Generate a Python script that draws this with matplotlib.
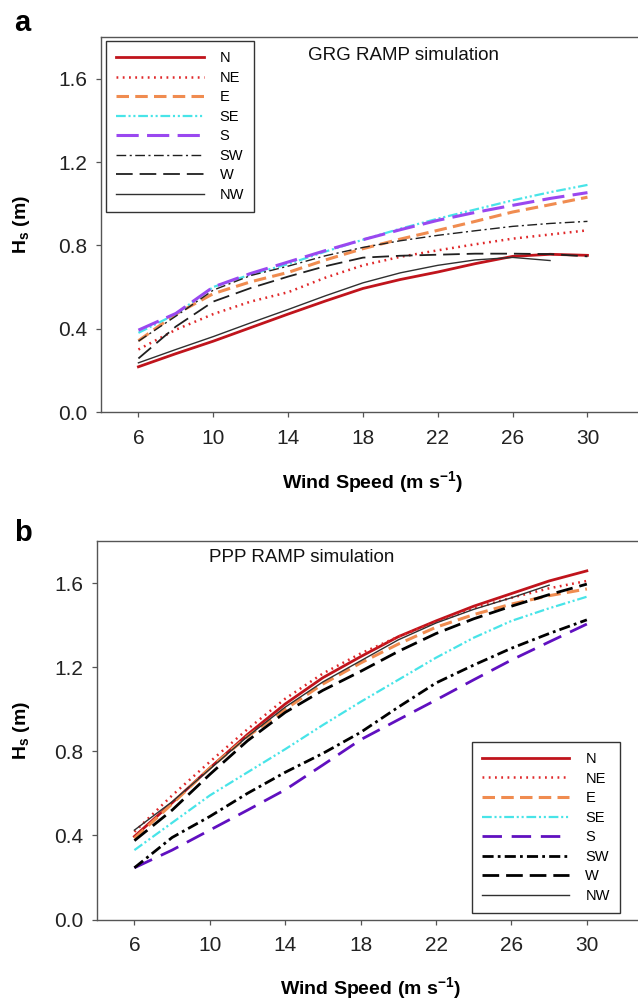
#!/usr/bin/env python3
"""Significant wave height vs wind speed for eight wind directions (GRG / PPP ramps)."""

import matplotlib
matplotlib.use("Agg")
import matplotlib.pyplot as plt

plt.rcParams["font.family"] = ["Liberation Sans", "DejaVu Sans"]
plt.rcParams["mathtext.fontset"] = "custom"
plt.rcParams["mathtext.rm"] = "Liberation Sans"
plt.rcParams["mathtext.bf"] = "Liberation Sans:bold"
plt.rcParams["lines.scale_dashes"] = False

# wind speed (m/s)
WIND = [6, 8, 10, 12, 14, 16, 18, 20, 22, 24, 26, 28, 30]
WIND_NW = [6, 8, 10, 12, 14, 16, 18, 20, 22, 24, 26, 28]
DIRECTIONS = ["N", "NE", "E", "SE", "S", "SW", "W", "NW"]
X_TICKS = [6, 10, 14, 18, 22, 26, 30]
Y_TICKS = [0.0, 0.4, 0.8, 1.2, 1.6]

# panel a: GRG RAMP simulation, Hs (m)
GRG_N = [0.217, 0.28, 0.34, 0.405, 0.47, 0.533, 0.593, 0.636, 0.672, 0.712, 0.747, 0.757, 0.752]
GRG_NE = [0.30, 0.395, 0.47, 0.53, 0.575, 0.645, 0.704, 0.745, 0.776, 0.805, 0.832, 0.852, 0.872]
GRG_E = [0.342, 0.47, 0.568, 0.625, 0.67, 0.73, 0.784, 0.83, 0.872, 0.915, 0.96, 0.995, 1.031]
GRG_SE = [0.38, 0.47, 0.60, 0.66, 0.71, 0.77, 0.827, 0.88, 0.928, 0.972, 1.016, 1.055, 1.09]
GRG_S = [0.393, 0.473, 0.60, 0.665, 0.72, 0.775, 0.827, 0.875, 0.92, 0.958, 0.992, 1.025, 1.053]
GRG_SW = [0.34, 0.46, 0.585, 0.655, 0.70, 0.75, 0.79, 0.822, 0.848, 0.87, 0.891, 0.905, 0.915]
GRG_W = [0.257, 0.41, 0.53, 0.595, 0.65, 0.70, 0.741, 0.75, 0.755, 0.76, 0.76, 0.758, 0.747]
GRG_NW = [0.236, 0.30, 0.362, 0.428, 0.492, 0.558, 0.62, 0.668, 0.704, 0.73, 0.742, 0.727]

# panel b: PPP RAMP simulation, Hs (m)
PPP_N = [0.395, 0.555, 0.72, 0.88, 1.025, 1.15, 1.25, 1.345, 1.42, 1.49, 1.55, 1.61, 1.658]
PPP_NE = [0.417, 0.59, 0.75, 0.905, 1.05, 1.17, 1.265, 1.345, 1.415, 1.48, 1.53, 1.575, 1.61]
PPP_E = [0.386, 0.55, 0.72, 0.87, 1.00, 1.12, 1.22, 1.31, 1.39, 1.45, 1.50, 1.54, 1.572]
PPP_SE = [0.33, 0.46, 0.59, 0.70, 0.81, 0.925, 1.035, 1.14, 1.245, 1.34, 1.42, 1.48, 1.535]
PPP_S = [0.246, 0.33, 0.425, 0.52, 0.617, 0.735, 0.855, 0.95, 1.044, 1.14, 1.234, 1.32, 1.405]
PPP_SW = [0.246, 0.39, 0.49, 0.60, 0.70, 0.79, 0.89, 1.01, 1.125, 1.21, 1.29, 1.36, 1.425]
PPP_W = [0.375, 0.52, 0.69, 0.85, 0.985, 1.09, 1.18, 1.275, 1.36, 1.43, 1.49, 1.545, 1.595]
PPP_NW = [0.425, 0.56, 0.715, 0.87, 1.01, 1.13, 1.23, 1.33, 1.41, 1.475, 1.53, 1.59]

GRG = [GRG_N, GRG_NE, GRG_E, GRG_SE, GRG_S, GRG_SW, GRG_W, GRG_NW]
PPP = [PPP_N, PPP_NE, PPP_E, PPP_SE, PPP_S, PPP_SW, PPP_W, PPP_NW]

# (color, linewidth, linestyle) per direction
STYLE_A = [
    ("#c0141c", 2.0, "-"),
    ("#e0282a", 1.8, (0, (1.3, 3.2))),
    ("#f08c50", 2.2, (0, (9, 4.5))),
    ("#48e4e8", 1.6, (0, (7, 2, 1.5, 2, 1.5, 2))),
    ("#9a48f0", 2.2, (0, (16, 6))),
    ("#202020", 1.0, (0, (7, 2.5, 1.5, 2.5))),
    ("#202020", 1.3, (0, (12, 5))),
    ("#303030", 1.0, "-"),
]
STYLE_B = [
    ("#c0141c", 2.0, "-"),
    ("#e0282a", 1.8, (0, (1.3, 3.2))),
    ("#f08c50", 2.2, (0, (9, 4.5))),
    ("#48e4e8", 1.6, (0, (7, 2, 1.5, 2, 1.5, 2))),
    ("#6010c0", 2.0, (0, (14, 7))),
    ("#000000", 2.0, (0, (8, 3, 2, 3))),
    ("#000000", 2.0, (0, (12, 5))),
    ("#303030", 1.0, "-"),
]

W, H = 638, 998
fig = plt.figure(figsize=(W / 100, H / 100), dpi=100)


def panel(rect, series, styles, title, title_xy, legend_xy, legend_loc, letter, letter_xy):
    ax = fig.add_axes(rect)
    for name, ys, (c, lw, ls) in zip(DIRECTIONS, series, styles):
        xs = WIND_NW if name == "NW" else WIND
        ax.plot(xs, ys, color=c, lw=lw, ls=ls, label=name)
    ax.set_xlim(4, 33)
    ax.set_ylim(0, 1.8)
    ax.set_xticks(X_TICKS)
    ax.set_yticks(Y_TICKS)
    ax.set_yticklabels([f"{v:.1f}" for v in Y_TICKS])
    ax.tick_params(axis="x", length=3.6, width=0.9, color="#555555", pad=8.5,
                   labelsize=15, labelcolor="#222222")
    ax.tick_params(axis="y", length=3.6, width=0.9, color="#555555", pad=6,
                   labelsize=15, labelcolor="#222222")
    for s in ax.spines.values():
        s.set_color("#555555")
        s.set_linewidth(1.0)
    ax.set_xlabel(r"Wind Speed (m s$^{\mathbf{-1}}$)", fontsize=14, fontweight="bold")
    ax.set_ylabel(r"$\mathbf{H_s}$ (m)", fontsize=14, fontweight="bold")
    ax.text(title_xy[0] / W, 1 - title_xy[1] / H, title, transform=fig.transFigure,
            ha="center", va="center", fontsize=13.5, color="#111111")
    fig.text(letter_xy[0] / W, 1 - letter_xy[1] / H, letter, fontsize=21,
             fontweight="bold", ha="left", va="center")
    leg = ax.legend(loc=legend_loc, bbox_to_anchor=(legend_xy[0] / W, 1 - legend_xy[1] / H),
                    bbox_transform=fig.transFigure, fontsize=10.5, handlelength=6.0,
                    handletextpad=1.1, labelspacing=0.38, borderpad=0.7,
                    fancybox=False, framealpha=1, edgecolor="#333333", borderaxespad=0)
    leg.get_frame().set_linewidth(1.0)
    return ax


ax_a = panel([101 / W, 1 - 412 / H, 542.6 / W, 375 / H], GRG, STYLE_A,
             "GRG RAMP simulation", (404, 55), (106, 41), "upper left", "a", (14, 23))
ax_a.yaxis.set_label_coords(-0.127, 0.5)
ax_a.xaxis.set_label_coords(0.5, -0.152)

ax_b = panel([96.7 / W, 1 - 919.5 / H, 546.7 / W, 378.5 / H], PPP, STYLE_B,
             "PPP RAMP simulation", (302, 558), (620, 913), "lower right", "b", (14, 533))
ax_b.yaxis.set_label_coords(-0.118, 0.5)
ax_b.xaxis.set_label_coords(0.5, -0.147)

fig.savefig("out.png", dpi=100)
